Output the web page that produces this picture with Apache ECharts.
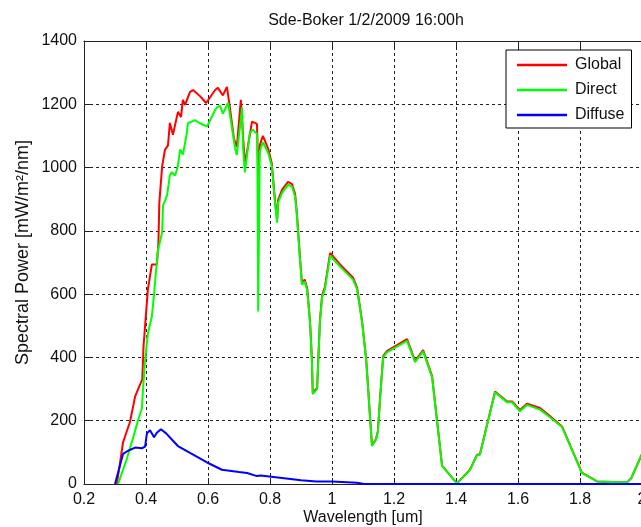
<!DOCTYPE html>
<html>
<head>
<meta charset="utf-8">
<script src="https://cdn.jsdelivr.net/npm/echarts@6/dist/echarts.min.js"></script>
<style>
html,body{margin:0;padding:0;background:#fff;}
#chart{width:641px;height:527px;}
</style>
</head>
<body>
<div id="chart"></div>
<script>
// ---- Data ----
const titleText = 'Sde-Boker 1/2/2009 16:00h';
const xTicks = [0.2, 0.4, 0.6, 0.8, 1.0, 1.2, 1.4, 1.6, 1.8, 2.0];
const yTicks = [0, 200, 400, 600, 800, 1000, 1200, 1400];
const seriesNames = ['Global', 'Direct', 'Diffuse'];

const globalWl = [0.306,0.326,0.348,0.365,0.381,0.388,0.392,0.397,0.406,0.419,0.435,0.44,0.443,0.452,0.461,0.471,0.477,0.487,0.503,0.513,0.519,0.526,0.542,0.552,0.575,0.594,0.623,0.632,0.648,0.661,0.668,0.684,0.693,0.706,0.713,0.719,0.742,0.758,0.762,0.767,0.777,0.794,0.806,0.816,0.823,0.826,0.839,0.858,0.871,0.881,0.887,0.897,0.903,0.912,0.92,0.929,0.935,0.938,0.952,0.955,0.961,0.968,0.977,0.994,1.026,1.068,1.081,1.097,1.11,1.116,1.123,1.129,1.142,1.148,1.155,1.165,1.177,1.242,1.268,1.294,1.323,1.355,1.403,1.445,1.468,1.477,1.526,1.565,1.581,1.606,1.629,1.671,1.703,1.742,1.806,1.855,1.952,1.965,2.0];
const globalVal = [0,132,195,277,315,330,435,498,615,694,694,760,889,1003,1056,1070,1141,1104,1176,1160,1214,1198,1239,1245,1225,1204,1245,1252,1228,1255,1208,1090,1065,1214,1100,1010,1145,1138,965,1070,1100,1060,1012,897,835,897,930,955,948,916,852,712,636,646,618,516,398,288,304,376,516,596,622,730,694,652,620,515,397,312,207,122,142,167,271,404,420,458,389,423,340,58,2,45,93,93,292,261,261,234,254,240,215,182,36,8,5,18,95];

const directWl = [0.31,0.339,0.358,0.374,0.387,0.39,0.397,0.406,0.419,0.426,0.432,0.439,0.452,0.455,0.468,0.477,0.483,0.494,0.503,0.51,0.519,0.532,0.535,0.558,0.574,0.597,0.623,0.629,0.639,0.648,0.665,0.668,0.687,0.693,0.71,0.713,0.719,0.735,0.745,0.759,0.762,0.767,0.777,0.794,0.806,0.816,0.823,0.826,0.839,0.858,0.871,0.881,0.887,0.897,0.903,0.912,0.92,0.929,0.935,0.938,0.952,0.955,0.961,0.968,0.977,0.994,1.026,1.068,1.081,1.097,1.11,1.116,1.123,1.129,1.142,1.148,1.155,1.165,1.177,1.242,1.268,1.294,1.323,1.355,1.403,1.445,1.468,1.477,1.526,1.565,1.581,1.606,1.629,1.671,1.703,1.742,1.806,1.855,1.952,1.965,2.0];
const directVal = [0,82,145,200,240,295,390,475,530,600,670,740,795,880,912,975,985,975,1006,1057,1041,1110,1140,1150,1140,1130,1182,1190,1195,1170,1205,1185,1063,1040,1190,1065,985,1110,1120,1105,545,1050,1080,1047,1003,889,826,889,920,946,940,908,845,706,630,640,612,511,394,284,300,372,511,590,615,722,687,646,615,511,394,309,205,120,140,165,268,400,416,452,385,419,337,57,2,44,92,92,290,258,258,230,250,235,211,180,35,8,5,18,95];

const diffuseWl = [0.3,0.326,0.342,0.365,0.387,0.397,0.403,0.413,0.426,0.435,0.448,0.465,0.484,0.503,0.542,0.597,0.645,0.7,0.726,0.758,0.77,0.832,0.9,0.95,1.0,1.08,1.1,1.2,1.5,2.0];
const diffuseVal = [0,95,105,115,113,118,160,170,148,162,173,160,140,120,98,68,45,38,35,25,27,20,12,8,8,4,1,0,0,0];

function pairs(xs, ys){ return xs.map((x,i)=>[x, ys[i]]); }

const chart = echarts.init(document.getElementById('chart'), null, {renderer:'canvas'});
const FONT = 'Liberation Sans, Arial, sans-serif';
const gridLine = {show:true, lineStyle:{color:'#222', type:[3,3], width:1}};

const option = {
  backgroundColor:'#fff',
  animation:false,
  title:{
    text:titleText, left:361, top:8, textAlign:'center',
    textStyle:{fontFamily:FONT, fontSize:16, fontWeight:'normal', color:'#111'}
  },
  legend:{
    orient:'vertical', left:506, top:50,
    data:seriesNames,
    icon:'rect', itemWidth:50, itemHeight:2.5, itemGap:9,
    padding:[7,7,5,11],
    borderColor:'#000', borderWidth:1, backgroundColor:'#fff',
    textStyle:{fontFamily:FONT, fontSize:16, color:'#111', padding:[0,0,0,3]}
  },
  grid:{left:84, top:41, width:558, height:443, containLabel:false, outerBoundsMode:'none'},
  xAxis:[{
    type:'value', min:xTicks[0], max:xTicks[xTicks.length-1], interval:0.2,
    position:'bottom',
    name:'Wavelength [um]', nameLocation:'middle', nameGap:26, nameMoveOverlap:false,
    nameTextStyle:{fontFamily:FONT, fontSize:16, color:'#111'},
    axisLine:{show:true, onZero:false, lineStyle:{color:'#222', width:1}},
    axisTick:{show:true, inside:true, length:6, lineStyle:{color:'#222'}},
    axisLabel:{fontFamily:FONT, fontSize:16, color:'#111', margin:8, formatter:v=>String(+v.toFixed(1))},
    splitLine:gridLine
  },{
    type:'value', min:xTicks[0], max:xTicks[xTicks.length-1], interval:0.2,
    position:'top',
    axisLine:{show:true, onZero:false, lineStyle:{color:'#222', width:1}},
    axisTick:{show:true, inside:true, length:6, lineStyle:{color:'#222'}},
    axisLabel:{show:false}, splitLine:{show:false}
  }],
  yAxis:{
    type:'value', min:yTicks[0], max:yTicks[yTicks.length-1], interval:200,
    name:'Spectral Power [mW/m\u00B2/nm]', nameLocation:'middle', nameGap:52, nameMoveOverlap:false,
    nameTextStyle:{fontFamily:FONT, fontSize:18, color:'#111', padding:[0,0,0,20]},
    axisLine:{show:true, lineStyle:{color:'#222', width:1}},
    axisTick:{show:true, inside:true, length:6, lineStyle:{color:'#222'}},
    axisLabel:{fontFamily:FONT, fontSize:16, color:'#111', margin:7, formatter:v=>String(v)},
    splitLine:gridLine
  },
  series:[
    {name:seriesNames[0], type:'line', data:pairs(globalWl, globalVal), showSymbol:false, symbol:'none', color:'#ff0000', lineStyle:{color:'#ff0000', width:2}, z:2},
    {name:seriesNames[1], type:'line', data:pairs(directWl, directVal), showSymbol:false, symbol:'none', color:'#00ff00', lineStyle:{color:'#00ff00', width:2}, z:3},
    {name:seriesNames[2], type:'line', data:pairs(diffuseWl, diffuseVal), showSymbol:false, symbol:'none', color:'#0000ff', lineStyle:{color:'#0000ff', width:2}, z:4}
  ]
};
chart.setOption(option);
</script>
</body>
</html>
